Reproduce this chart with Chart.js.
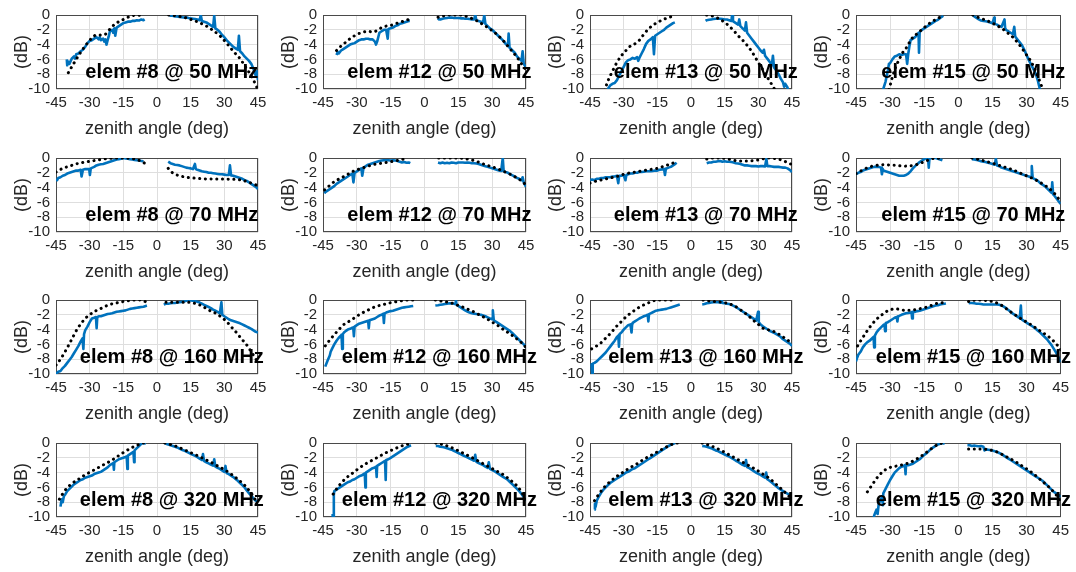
<!DOCTYPE html>
<html><head><meta charset="utf-8">
<script src="https://cdn.jsdelivr.net/npm/chart.js@4.4.0/dist/chart.umd.min.js"></script>
<style>
html,body{margin:0;padding:0;background:#fff;}
body{width:1076px;height:572px;position:relative;overflow:hidden;}
canvas{position:absolute;}
</style>
</head><body>
<script>
// ---------- tick labels ----------
const xTicks = [-45, -30, -15, 0, 15, 30, 45];
const yTicks = [0, -2, -4, -6, -8, -10];
const elemNames = ['#8', '#12', '#13', '#15'];
const freqNames = ['50 MHz', '70 MHz', '160 MHz', '320 MHz'];

// ---------- 50 MHz ----------
const e8_50_meas = [[-40.2,-6.0],[-40,-6.8],[-39.5,-6.3],[-39,-6.6],[-38,-5.9],[-37,-5.6],[-36.5,-5.9],[-36,-5.3],[-35,-5.2],[-34,-4.9],[-33,-4.7],[-32,-4.3],[-31,-3.8],[-30,-3.5],[-29,-3.4],[-28,-3.2],[-27,-3.0],[-26,-3.3],[-25.5,-3.0],[-25,-3.4],[-24,-3.2],[-23.5,-3.6],[-23,-3.3],[-22.5,-4.0],[-22,-3.4],[-21.5,-2.9],[-21,-2.2],[-20,-2.0],[-19.5,-2.4],[-19,-1.8],[-18.6,-2.8],[-18,-1.7],[-17,-1.5],[-16,-1.3],[-15,-1.1],[-14,-1.0],[-13,-0.9],[-12,-0.9],[-11,-0.8],[-10,-0.8],[-9,-0.7],[-8,-0.75],[-7,-0.6],[-6,-0.7],[-5.5,-0.6],
  [0,null],[5.5,0],[6,-0.1],[7,-0.1],[8,-0.2],[9,-0.2],[10,-0.25],[11,-0.3],[12,-0.35],[13,-0.3],[14,-0.4],[15,-0.45],[16,-0.5],[17,-0.55],[18,-0.6],[19,-0.7],[19.5,0],[20,-0.8],[21,-0.9],[22,-1.0],[23,-1.2],[24,-1.4],[25,-1.6],[25.5,-0.1],[26,-1.8],[27,-2.0],[28,-2.3],[29,-2.7],[30,-3.0],[31,-3.4],[32,-3.7],[33,-4.0],[34,-4.3],[35,-4.5],[36,-4.7],[36.5,-2.8],[37,-4.9],[38,-5.2],[39,-5.6],[40,-5.9],[41,-6.2],[42,-6.6],[43,-7.3],[44,-8.2],[44.5,-7.6],[45,-8.8]];
const e8_50_model = [[-39.5,-7.8],[-37,-6.5],[-35,-5.5],[-33,-4.6],[-31,-3.8],[-29,-3.1],[-27,-2.7],[-25,-2.7],[-23,-2.6],[-21,-1.9],[-19,-1.3],[-17,-0.9],[-15,-0.6],[-13,-0.3],[-11,-0.1],[-9,0],[-7,-0.1],[-6,-0.2],
  [0,null],[5.2,0],[7,-0.05],[10,-0.2],[13,-0.4],[16,-0.7],[19,-1.05],[22,-1.5],[25,-2.1],[28,-2.8],[31,-3.8],[34,-4.9],[37,-5.9],[40,-7.3],[42,-8.2],[44.7,-9.9]];

const e12_50_meas = [[-39,-5.4],[-38.5,-5.0],[-38,-5.2],[-37,-4.8],[-36,-4.6],[-35,-4.4],[-34,-4.2],[-33,-4.0],[-32,-3.9],[-31,-3.8],[-30,-3.6],[-29,-3.4],[-28,-3.3],[-27,-3.3],[-26,-3.2],[-25,-3.2],[-24,-3.3],[-23,-3.3],[-22,-3.6],[-21.5,-4.0],[-21,-3.6],[-20.5,-3.0],[-20,-2.4],[-19,-2.2],[-18,-2.0],[-17,-2.0],[-16.3,-3.2],[-16,-1.9],[-15,-1.8],[-14,-1.7],[-13,-1.5],[-12,-1.4],[-11,-1.2],[-10,-1.1],[-9,-1.0],[-8,-0.9],[-7,-0.8],[-6.5,-0.8],
  [0,null],[6,-0.7],[6.5,-0.5],[7,-0.6],[8,-0.5],[9,-0.45],[10,-0.4],[11,-0.35],[12,-0.35],[13,-0.4],[14,-0.4],[15,-0.4],[16,-0.45],[17,-0.45],[18,-0.5],[19,-0.5],[20,-0.55],[21,-0.6],[22,-0.6],[22.5,0],[23,-0.7],[24,-0.8],[25,-0.9],[26,-1.0],[26.5,0],[27,-1.2],[28,-1.5],[29,-1.8],[30,-2.0],[31,-2.3],[32,-2.6],[33,-2.9],[34,-3.2],[35,-3.5],[36,-3.9],[37,-4.2],[37.3,-2.5],[37.7,-4.4],[38,-4.5],[39,-4.8],[40,-5.1],[41,-5.6],[42,-5.9],[43,-6.2],[43.5,-4.9],[44,-6.6],[45,-7.1]];
const e12_50_model = [[-39,-4.8],[-37,-4.2],[-35,-3.7],[-33,-3.2],[-31,-2.8],[-29,-2.5],[-27,-2.3],[-25,-2.2],[-23,-2.3],[-21,-2.1],[-19,-1.7],[-17,-1.5],[-15,-1.4],[-13,-1.2],[-11,-1.0],[-9,-0.8],[-7,-0.6],
  [0,null],[6,-0.3],[8,-0.15],[11,0],[14,0],[17,-0.05],[20,-0.35],[23,-0.75],[26,-1.3],[29,-1.9],[32,-2.6],[35,-3.5],[38,-4.6],[41,-5.7],[43,-6.6],[45,-7.4]];

const e13_50_meas = [[-38,-10.8],[-37,-10.0],[-36,-9.5],[-35,-9.3],[-34,-9.2],[-33,-8.8],[-32,-8.2],[-31,-7.6],[-30,-7.0],[-29,-6.4],[-28,-6.1],[-27,-6.0],[-26,-5.8],[-25,-5.9],[-24,-5.7],[-23.5,-6.2],[-23,-5.8],[-22,-5.2],[-21,-4.6],[-20,-3.9],[-19,-3.5],[-18,-3.3],[-17,-3.0],[-16.5,-5.3],[-16,-2.8],[-15,-2.6],[-14,-2.4],[-13,-2.2],[-12,-2.0],[-11,-1.7],[-10,-1.5],[-9,-1.3],[-8,-1.1],[-7.2,-1.0],
  [0,null],[6.5,-0.8],[7,-0.7],[8,-0.65],[9,-0.6],[10,-0.55],[11,-0.5],[12,-0.5],[13,-0.5],[14,-0.55],[15,-0.6],[16,-0.6],[17,-0.7],[18,-0.8],[18.3,0],[18.7,-0.85],[19,-0.9],[20,-1.1],[21,-1.3],[21.5,-0.6],[22,-1.5],[23,-1.8],[24,-2.1],[24.5,-1.0],[25,-2.4],[26,-2.8],[27,-3.2],[28,-3.6],[29,-4.0],[30,-4.4],[31,-4.8],[32,-5.1],[32.5,-4.7],[33,-5.5],[34,-5.9],[35,-6.3],[36,-6.8],[36.5,-5.5],[37,-7.1],[38,-7.5],[39,-8.0],[40,-8.6],[41,-9.1],[41.5,-9.7],[42,-9.3],[43,-9.8],[43.5,-10.5]];
const e13_50_model = [[-38.5,-10.2],[-37,-8.9],[-35,-7.6],[-33,-6.4],[-31,-5.5],[-29,-4.8],[-27,-4.2],[-25,-3.9],[-23,-3.4],[-21,-2.6],[-19,-1.9],[-17,-1.4],[-15,-1.0],[-13,-0.7],[-11,-0.45],[-9,-0.25],[-7.5,-0.1],
  [0,null],[7,0],[9,-0.1],[11,-0.3],[13,-0.6],[15,-1.0],[17,-1.5],[19,-2.1],[21,-2.8],[23,-3.4],[25,-4.1],[27,-4.9],[29,-5.9],[31,-6.9],[33,-7.9],[35,-8.9],[37.4,-10.1]];

const e15_50_meas = [[-33.5,-10.5],[-33,-10],[-32,-9.0],[-31,-7.5],[-30.5,-6.6],[-30,-6.5],[-29,-6.0],[-28,-5.6],[-27,-5.5],[-26,-5.3],[-25,-5.4],[-24,-5.3],[-23,-5.3],[-22.5,-6.6],[-22,-5.2],[-21.5,-4.2],[-21,-3.4],[-20,-3.2],[-19,-3.0],[-18,-2.6],[-17.5,-2.4],[-17.3,-5.1],[-17,-2.3],[-16,-2.0],[-15,-1.8],[-14,-1.6],[-13,-1.4],[-12,-1.2],[-11,-1.0],[-10,-0.8],[-9,-0.65],[-8,-0.4],[-7,-0.2],[-6.7,-0.1],
  [0,null],[6.4,0],[7,-0.2],[8,-0.4],[9,-0.6],[10,-0.75],[11,-0.8],[12,-0.85],[13,-0.9],[14,-1.0],[15,-1.1],[15.8,-0.35],[16,-1.2],[17,-1.3],[18,-1.5],[19,-1.6],[20.3,-0.6],[20.6,-1.8],[21,-2.0],[22,-2.2],[23,-2.4],[24,-2.6],[24.6,-1.6],[25,-2.9],[26,-3.3],[27,-3.7],[28,-4.1],[29,-4.7],[30,-5.4],[31,-6.1],[32,-6.7],[33,-7.3],[34,-7.9],[35,-8.9],[36,-10.2]];
const e15_50_model = [[-30.5,-10.1],[-29,-8.4],[-27.5,-7.0],[-26,-6.0],[-24.5,-5.1],[-23,-4.5],[-21.5,-3.7],[-20,-3.0],[-18,-2.5],[-16.5,-2.1],[-15,-1.7],[-13,-1.2],[-11,-0.8],[-9,-0.45],[-7.5,-0.2],[-7,-0.1],
  [0,null],[6.4,0],[8,-0.25],[10,-0.45],[12,-0.7],[14,-0.95],[16,-1.25],[18,-1.6],[20,-2.0],[22,-2.5],[24,-3.0],[26,-3.7],[28,-4.5],[30,-5.4],[32,-6.3],[34,-7.6],[35.5,-8.7],[37.2,-10.1]];

// ---------- 70 MHz ----------
const e8_70_meas = [[-45,-2.8],[-44.5,-3.0],[-44,-2.7],[-43,-2.6],[-42,-2.4],[-41,-2.3],[-40,-2.1],[-39,-2.0],[-38,-1.9],[-37,-1.8],[-36,-1.7],[-35,-1.7],[-34,-1.6],[-33.6,-2.5],[-33,-1.6],[-32,-1.5],[-31,-1.5],[-30.2,-1.5],[-29.9,-2.3],[-29.5,-1.4],[-28,-1.2],[-27,-1.0],[-26,-0.9],[-25,-0.85],[-24,-0.8],[-23,-0.7],[-22,-0.6],[-21,-0.5],[-20,-0.4],[-19,-0.3],[-18,-0.2],[-17,-0.15],[-16,-0.1],[-15,0],[-14,-0.05],[-13,-0.1],[-12,-0.15],[-11,-0.2],[-10,-0.25],[-9,-0.3],[-8,-0.35],[-7,-0.4],[-6,-0.45],
  [0,null],[5,-0.5],[6,-0.7],[7,-0.8],[8,-0.9],[9,-0.95],[10,-1.0],[11,-1.1],[12,-1.2],[13,-1.3],[14,-1.35],[15,-1.4],[16,-1.5],[16.9,-0.8],[17.3,-1.5],[18,-1.6],[19,-1.7],[20,-1.8],[21,-1.85],[22,-1.9],[23,-2.0],[24,-2.0],[25,-2.05],[26,-2.1],[27,-2.15],[28,-2.2],[29,-2.2],[30,-2.25],[31,-2.3],[32,-2.3],[32.5,-1.0],[33,-2.35],[34,-2.4],[35,-2.5],[36,-2.6],[37,-2.7],[38,-2.8],[39,-3.0],[40,-3.1],[41,-3.3],[42,-3.5],[43,-3.7],[44,-3.9],[45,-4.2]];
const e8_70_model = [[-45,-1.9],[-42,-1.4],[-39,-1.1],[-36,-0.8],[-33,-0.6],[-30,-0.45],[-27,-0.3],[-24,-0.15],[-21,-0.05],[-18,0],[-15,0],[-12,-0.05],[-9,-0.2],[-7,-0.45],[-5.5,-0.7],
  [0,null],[5,-1.4],[6.5,-1.9],[8,-2.2],[10,-2.4],[13,-2.6],[16,-2.7],[20,-2.8],[25,-2.85],[30,-2.85],[35,-2.9],[38,-3.0],[41,-3.3],[43,-3.5],[45,-3.75]];

const e12_70_meas = [[-44.3,-4.8],[-44,-4.6],[-43,-4.4],[-42,-4.2],[-41,-4.0],[-40,-3.8],[-39,-3.5],[-38,-3.3],[-37,-3.1],[-36,-2.9],[-35,-2.7],[-34,-2.5],[-33,-2.3],[-32,-2.1],[-31.5,-3.3],[-31,-2.0],[-30,-1.8],[-29,-1.6],[-28,-1.4],[-27.6,-2.4],[-27,-1.3],[-26,-1.1],[-25,-0.9],[-24,-0.8],[-23,-0.7],[-22,-0.6],[-21,-0.5],[-20,-0.4],[-19,-0.35],[-18,-0.3],[-17,-0.3],[-16,-0.3],[-15,-0.35],[-14,-0.3],[-13,-0.35],[-12,-0.4],[-11,-0.5],[-10,-0.6],[-9,-0.55],[-8,-0.65],[-7,-0.6],[-6.3,-0.7],
  [0,null],[6,-0.6],[7,-0.7],[8,-0.6],[9,-0.7],[10,-0.65],[11,-0.7],[12,-0.6],[13,-0.65],[14,-0.7],[15,-0.6],[16,-0.6],[17,-0.6],[18,-0.65],[19,-0.6],[20,-0.65],[21,-0.7],[22,-0.7],[23,-0.75],[24,-0.8],[25,-0.9],[26,-1.0],[27,-1.1],[28,-1.2],[29,-1.3],[30,-1.4],[31,-1.5],[32,-1.6],[33,-1.7],[34,-1.75],[34.7,0],[35.1,-1.8],[36,-1.9],[37,-2.0],[38,-2.2],[39,-2.35],[40,-2.5],[41,-2.7],[42,-2.8],[43,-3.0],[43.5,-2.6],[44,-3.3],[45,-3.9]];
const e12_70_model = [[-44.3,-4.3],[-42,-3.7],[-40,-3.2],[-37,-2.7],[-34,-2.2],[-31,-1.7],[-28,-1.4],[-25,-1.1],[-22,-0.85],[-19,-0.7],[-16,-0.55],[-13,-0.4],[-10,-0.2],[-7.7,0],
  [0,null],[6.3,0],[10,0],[14,0],[17,-0.05],[20,-0.2],[23,-0.45],[26,-0.8],[29,-1.1],[32,-1.4],[35,-1.8],[38,-2.2],[41,-2.7],[43,-3.1],[44.5,-3.5]];

const e13_70_meas = [[-45,-3.0],[-44,-2.9],[-43,-3.0],[-42,-2.8],[-41,-2.8],[-40,-2.7],[-39,-2.7],[-38,-2.6],[-37,-2.6],[-36,-2.6],[-35,-2.5],[-34,-2.5],[-33,-2.4],[-32.4,-3.4],[-32,-2.4],[-31,-2.4],[-30,-2.3],[-29.2,-3.0],[-28.8,-2.3],[-28,-2.2],[-27,-2.1],[-26,-2.1],[-25,-2.0],[-24,-2.0],[-23,-1.9],[-22,-1.9],[-21,-1.85],[-20,-1.8],[-19,-1.8],[-18,-1.8],[-17,-1.75],[-16,-1.7],[-15,-1.7],[-14,-1.6],[-12,-1.5],[-11.6,-2.3],[-11.2,-1.45],[-10,-1.3],[-9,-1.2],[-8,-1.0],[-7,-0.8],[-6.5,-0.6],
  [0,null],[7,-0.7],[8,-0.6],[9,-0.6],[10,-0.5],[11,-0.5],[12,-0.45],[13,-0.4],[14,-0.5],[15,-0.45],[16,-0.5],[17,-0.5],[18,-0.55],[19,-0.6],[20,-0.7],[21,-0.75],[22,-0.8],[23,-0.9],[24,-1.0],[25,-1.0],[26,-1.05],[27,-1.1],[28,-1.1],[29,-1.1],[30,-1.15],[31,-1.1],[32,-1.1],[33,-1.15],[33.6,-0.1],[34,-1.1],[35,-1.1],[36,-1.15],[37,-1.2],[38,-1.2],[39,-1.2],[40,-1.25],[41,-1.3],[42,-1.3],[43,-1.4],[44,-1.6],[45,-1.9]];
const e13_70_model = [[-45,-3.4],[-42,-3.1],[-39,-2.9],[-36,-2.7],[-33,-2.5],[-30,-2.2],[-27,-2.0],[-24,-1.85],[-21,-1.7],[-18,-1.55],[-15,-1.4],[-12,-1.1],[-9,-0.8],[-6.7,-0.5],
  [0,null],[7,-0.15],[10,0],[13,0],[16,-0.1],[19,-0.3],[22,-0.4],[25,-0.4],[28,-0.35],[31,-0.2],[34,0],[37,-0.05],[40,-0.25],[42.5,-0.55],[44.7,-0.85]];

const e15_70_meas = [[-45,-2.2],[-44,-2.0],[-43,-1.9],[-42,-1.7],[-41,-1.6],[-40,-1.5],[-39,-1.4],[-38,-1.3],[-37,-1.2],[-36,-1.2],[-35,-1.2],[-34,-1.3],[-33.6,-2.2],[-33.2,-1.5],[-33,-1.7],[-32,-1.8],[-31,-1.9],[-30,-2.0],[-29,-2.1],[-28,-2.2],[-27,-2.3],[-26,-2.4],[-25,-2.4],[-24,-2.4],[-23,-2.3],[-22,-2.1],[-21,-1.8],[-20,-1.4],[-19,-1.1],[-18,-0.8],[-17,-0.55],[-16,-0.35],[-15,-0.15],[-14,0],[-13.3,-0.1],[-13,-1.3],[-12.7,-0.1],[-12,0],[-11,0],[-10,0],[-9,-0.1],[-8,-0.2],[-7,-0.3],
  [0,null],[6,-0.15],[7,-0.2],[8,-0.25],[9,-0.35],[10,-0.45],[11,-0.5],[12,-0.55],[13,-0.65],[14,-0.7],[15,-0.8],[16,-0.9],[16.5,-0.1],[17,-1.0],[18,-1.1],[19,-1.3],[20,-1.4],[21,-1.5],[22,-1.6],[23,-1.7],[24,-1.8],[25,-1.9],[26,-2.0],[27,-2.1],[28,-2.2],[29,-2.3],[30,-2.4],[31,-2.5],[32,-2.6],[32.3,-1.1],[32.7,-2.7],[33,-2.75],[34,-2.9],[35,-3.1],[36,-3.4],[37,-3.6],[38,-3.8],[39,-4.1],[40,-4.4],[41,-4.7],[41.3,-3.3],[41.7,-4.9],[42,-5.0],[43,-5.4],[44,-5.8],[45,-6.2]];
const e15_70_model = [[-45,-2.1],[-42,-1.6],[-39,-1.2],[-36,-1.0],[-33,-0.9],[-30,-0.95],[-27,-1.0],[-24,-1.1],[-21,-1.05],[-18,-0.85],[-15,-0.5],[-12,-0.15],[-10,0],[-7.2,-0.1],
  [0,null],[6,0],[9,-0.2],[12,-0.45],[15,-0.7],[18,-1.0],[21,-1.3],[24,-1.6],[27,-2.0],[30,-2.4],[33,-2.8],[36,-3.3],[39,-3.9],[42,-4.7],[44.6,-5.7]];

// ---------- 160 MHz ----------
const e8_160_meas = [[-45,-10],[-44,-9.7],[-43,-9.6],[-42,-9.2],[-41,-8.9],[-40,-8.5],[-39,-8.1],[-38,-7.7],[-37,-7.2],[-36,-6.7],[-35,-6.2],[-34,-5.6],[-33.2,-5.2],[-32.8,-6.6],[-32.5,-4.6],[-32,-4.1],[-31,-3.6],[-30,-3.0],[-29,-2.5],[-28,-2.4],[-27.2,-2.3],[-26.9,-3.8],[-26.6,-2.3],[-26,-2.2],[-25,-2.2],[-24,-2.1],[-23,-2.0],[-22,-1.9],[-21,-1.85],[-20,-1.8],[-19,-1.7],[-18,-1.6],[-17,-1.55],[-16,-1.5],[-15,-1.45],[-14,-1.4],[-13,-1.3],[-12,-1.2],[-11,-1.15],[-10,-1.1],[-9,-1.05],[-8,-1.0],[-7,-0.95],[-6,-0.9],[-5,-0.8],[-4.5,-0.75],
  [0,null],[3,-0.6],[4,-0.5],[5,-0.5],[6,-0.45],[7,-0.4],[8,-0.4],[9,-0.35],[10,-0.3],[11,-0.25],[12,-0.2],[13,-0.1],[14,0],[15,-0.05],[16,-0.1],[17,-0.15],[18,-0.25],[19,-0.35],[20,-0.5],[21,-0.65],[22,-0.8],[23,-0.95],[24,-1.1],[25,-1.3],[26,-1.45],[27,-1.6],[28,-1.8],[28.7,-0.3],[29.1,-2.0],[30,-2.2],[31,-2.4],[32,-2.6],[33,-2.75],[34,-2.85],[35,-2.95],[36,-3.05],[37,-3.15],[38,-3.3],[39,-3.45],[40,-3.6],[41,-3.75],[42,-3.9],[43,-4.1],[44,-4.3],[45,-4.4]];
const e8_160_model = [[-45,-8.8],[-43,-8.0],[-41,-7.0],[-39,-5.9],[-37.3,-4.9],[-35.5,-3.9],[-33.6,-3.1],[-32,-2.5],[-30,-2.0],[-27.5,-1.5],[-25.4,-1.2],[-23,-0.85],[-21,-0.6],[-18,-0.4],[-16.5,-0.3],[-13,-0.1],[-10.6,0],[-8,0],[-6,-0.1],[-4.5,-0.35],
  [0,null],[4,-0.3],[7,-0.3],[10,-0.3],[13,-0.3],[16,-0.4],[18,-0.55],[20,-0.8],[22,-1.15],[24,-1.5],[26.5,-1.85],[29,-2.4],[31,-2.9],[33,-3.6],[35.4,-4.4],[37.5,-5.2],[39.8,-6.0],[42,-7.0],[44.3,-8.1]];

const e12_160_meas = [[-44,-9.0],[-43.5,-8.6],[-43,-8.2],[-42,-7.5],[-41.6,-7.0],[-41,-6.6],[-40,-6.0],[-39,-5.5],[-38,-5.1],[-37,-4.8],[-36.8,-4.7],[-36.5,-6.6],[-36.2,-4.6],[-35.7,-4.4],[-35,-4.2],[-34,-4.0],[-33,-3.9],[-32,-3.75],[-31.6,-3.7],[-31.3,-4.9],[-31,-3.6],[-30,-3.4],[-29,-3.2],[-28,-3.1],[-27,-3.0],[-26,-2.9],[-25,-2.8],[-24.7,-3.8],[-24.4,-2.75],[-23,-2.6],[-22,-2.5],[-21,-2.3],[-20,-2.1],[-19,-2.0],[-18.3,-1.85],[-18,-3.1],[-17.7,-1.8],[-17,-1.7],[-16,-1.6],[-15,-1.5],[-14,-1.45],[-13,-1.35],[-12,-1.25],[-11,-1.15],[-10,-1.05],[-9,-1.0],[-8,-0.95],[-7,-0.9],[-6,-0.85],[-5,-0.8],[-4.8,-0.8],
  [0,null],[4.8,-0.75],[6,-0.7],[7,-0.65],[8,-0.6],[9,-0.55],[10,-0.5],[11,-0.45],[12,-0.45],[13,-0.5],[13.6,-0.55],[13.9,0.1],[14.2,-0.65],[15,-0.8],[16,-1.0],[17,-1.2],[18,-1.4],[19,-1.55],[20,-1.7],[21,-1.8],[22,-1.85],[23,-1.9],[24,-1.95],[25,-2.0],[26,-2.1],[27,-2.2],[28,-2.35],[29,-2.5],[30,-2.6],[30.3,-1.4],[30.7,-2.7],[31,-2.8],[32,-3.0],[33,-3.2],[34,-3.4],[35,-3.6],[36,-3.8],[37,-4.0],[38,-4.2],[39,-4.5],[40,-4.8],[41,-5.1],[42,-5.4],[43,-5.7],[44,-6.0],[45,-6.4]];
const e12_160_model = [[-44,-6.2],[-42,-5.4],[-40,-4.7],[-38,-4.0],[-35.7,-3.3],[-33,-2.8],[-31,-2.4],[-29,-2.0],[-27,-1.65],[-25,-1.35],[-22.5,-1.0],[-20,-0.75],[-18,-0.6],[-15.5,-0.4],[-13,-0.25],[-10,-0.1],[-7,0],[-4.8,0],
  [0,null],[4.8,0],[6.5,-0.1],[8.5,-0.2],[11,-0.35],[13,-0.5],[15,-0.75],[17.3,-1.0],[19.5,-1.3],[21.8,-1.6],[24,-1.95],[26.2,-2.3],[28.5,-2.7],[30.6,-3.1],[33,-3.55],[35,-4.0],[37,-4.4],[39.4,-4.9],[41.5,-5.4],[43.8,-6.0],[45,-6.4]];

const e13_160_meas = [[-44.5,-9.0],[-44.3,-8.7],[-44,-10.2],[-43.8,-8.6],[-43,-8.5],[-42,-8.3],[-41,-8.0],[-40,-7.7],[-39,-7.4],[-38,-7.1],[-37,-6.7],[-36,-6.3],[-35,-5.9],[-34,-5.5],[-33,-5.0],[-32.4,-4.8],[-32.1,-6.3],[-31.8,-4.6],[-31,-4.4],[-30,-4.0],[-29,-3.7],[-28,-3.4],[-27,-3.3],[-26.5,-4.4],[-26.2,-3.2],[-26,-3.1],[-25,-2.9],[-24,-2.7],[-23,-2.5],[-22,-2.35],[-21,-2.2],[-20,-2.1],[-19.3,-2.0],[-19,-2.9],[-18.7,-1.9],[-18,-1.8],[-17,-1.65],[-16,-1.5],[-15,-1.4],[-14,-1.35],[-13,-1.3],[-12,-1.25],[-11,-1.2],[-10,-1.1],[-9,-1.0],[-8,-0.9],[-7,-0.8],[-6,-0.7],[-5,-0.6],
  [0,null],[5,-0.6],[6,-0.55],[7,-0.45],[8,-0.4],[9,-0.35],[10,-0.3],[11,-0.3],[12,-0.3],[13.2,-0.35],[13.6,0.1],[14,-0.4],[15,-0.45],[16,-0.5],[17,-0.55],[18,-0.65],[19,-0.8],[20,-0.95],[21,-1.15],[22,-1.35],[23,-1.55],[24,-1.75],[25,-1.95],[26,-2.15],[27,-2.35],[28,-2.55],[29,-2.8],[29.9,-1.6],[30.2,-3.0],[31,-3.3],[32,-3.55],[33,-3.75],[34,-3.95],[35,-4.15],[36,-4.3],[37,-4.45],[38,-4.6],[39,-4.8],[40,-5.0],[41,-5.3],[42,-5.5],[43,-5.7],[44,-5.9],[45,-6.2]];
const e13_160_model = [[-44.3,-6.6],[-42,-6.2],[-40.5,-5.9],[-38.5,-5.3],[-36.8,-4.8],[-35,-4.2],[-33,-3.5],[-31,-2.9],[-28.7,-2.2],[-26.5,-1.7],[-24.2,-1.2],[-22,-0.8],[-19.8,-0.5],[-17.5,-0.2],[-15.3,0],[-12,0],[-9,0],[-6.4,0],
  [0,null],[5.4,0],[7.5,-0.1],[9.8,-0.2],[12,-0.25],[14.3,-0.3],[16.5,-0.5],[18.7,-0.7],[21,-1.1],[23.2,-1.6],[25.5,-2.1],[27.6,-2.7],[30,-3.3],[32,-3.8],[34,-4.0],[36.5,-4.2],[39,-4.6],[41,-5.0],[43,-5.4],[44.7,-5.9]];

const e15_160_meas = [[-45,-8.3],[-44.5,-7.8],[-44,-7.4],[-43,-7.0],[-42,-6.4],[-41,-6.0],[-40,-5.7],[-39,-5.5],[-38,-5.2],[-37.3,-5.0],[-37,-6.4],[-36.7,-4.8],[-36,-4.4],[-35,-4.0],[-34,-3.7],[-33,-3.4],[-32.5,-3.3],[-32.2,-4.2],[-31.9,-3.1],[-31,-3.0],[-30,-2.8],[-29,-2.6],[-28,-2.4],[-27.1,-2.3],[-26.8,-2.9],[-26.5,-2.2],[-26,-2.15],[-25,-2.0],[-24,-1.9],[-23,-1.8],[-22,-1.75],[-21,-1.7],[-20.6,-1.65],[-20.3,-2.5],[-20,-1.6],[-19,-1.6],[-18,-1.5],[-17,-1.45],[-16,-1.35],[-15,-1.25],[-14,-1.15],[-13,-1.05],[-12,-0.95],[-11,-0.85],[-10,-0.75],[-9,-0.7],[-8,-0.6],[-7,-0.55],[-6,-0.5],[-5.5,-0.45],
  [0,null],[4.5,-0.45],[5,-0.4],[6,-0.4],[7,-0.45],[8,-0.5],[9,-0.5],[10,-0.55],[11,-0.6],[12,-0.6],[13,-0.6],[14,-0.6],[15,-0.6],[16,-0.6],[17,-0.6],[18,-0.65],[19,-0.75],[20,-0.9],[21,-1.1],[22,-1.35],[23,-1.6],[24,-1.85],[25,-2.05],[26,-2.25],[27,-2.45],[27.5,-0.75],[27.8,-2.55],[28,-2.65],[29,-2.85],[30,-3.05],[31,-3.25],[32,-3.45],[33,-3.65],[34,-3.9],[35,-4.15],[36,-4.4],[37,-4.7],[38,-5.0],[39,-5.3],[40,-5.7],[41,-6.1],[42,-6.6],[43,-7.1],[44,-7.7],[45,-8.4]];
const e15_160_model = [[-44.3,-6.2],[-42.5,-5.3],[-40.6,-4.4],[-38.5,-3.5],[-36.3,-2.7],[-34,-2.1],[-31.9,-1.6],[-29.7,-1.3],[-27.5,-1.2],[-25.5,-1.3],[-23.2,-1.4],[-21,-1.4],[-18.8,-1.3],[-16.5,-1.15],[-14.4,-1.0],[-12,-0.75],[-10,-0.5],[-8,-0.4],[-5.7,-0.3],
  [0,null],[4.5,-0.2],[6.5,-0.05],[8.9,0],[11,-0.05],[13.3,-0.1],[15.5,-0.25],[17.6,-0.5],[20,-0.9],[22,-1.4],[24.2,-1.85],[26.4,-2.3],[28.5,-2.7],[30.7,-3.1],[33,-3.55],[35.1,-4.0],[37.3,-4.45],[39.5,-4.9],[41.7,-5.5],[43.8,-6.2],[45,-6.7]];

// ---------- 320 MHz ----------
const e8_320_meas = [[-43,-8.6],[-42.5,-7.6],[-42,-8.0],[-41.5,-7.2],[-41,-7.0],[-40,-6.5],[-39,-6.2],[-38,-5.9],[-37,-5.6],[-36,-5.4],[-35,-5.2],[-34,-5.0],[-33,-4.9],[-32,-4.7],[-31,-4.6],[-30,-4.5],[-29,-4.4],[-28,-4.2],[-27,-4.1],[-26,-4.0],[-25,-3.9],[-24,-3.7],[-23,-3.5],[-22,-3.3],[-21,-3.0],[-20,-2.8],[-19.5,-2.7],[-19.2,-3.6],[-19,-2.6],[-18,-2.4],[-17,-2.2],[-16,-2.1],[-15,-2.0],[-14,-1.9],[-13.5,-1.8],[-13.2,-3.5],[-13,-1.7],[-12,-1.5],[-11,-1.3],[-10.5,-1.2],[-10.2,-2.6],[-10,-1.0],[-9,-0.7],[-8,-0.4],[-7,-0.1],[-6,0],[-5,-0.1],
  [0,null],[3.5,0],[4,-0.1],[5,-0.2],[6,-0.3],[7,-0.4],[8,-0.5],[9,-0.6],[10,-0.75],[11,-0.9],[12,-1.0],[13,-1.15],[14,-1.3],[15,-1.45],[16,-1.6],[17,-1.75],[18,-1.9],[19,-2.1],[20,-2.3],[20.5,-1.5],[21,-2.45],[22,-2.6],[23,-2.75],[24,-2.9],[25,-3.05],[25.5,-2.2],[26,-3.2],[27,-3.35],[28,-3.5],[29,-3.7],[30,-3.9],[30.5,-3.1],[31,-4.05],[32,-4.2],[33,-4.4],[34,-4.6],[35,-4.85],[36,-5.1],[37,-5.4],[38,-5.7],[39,-6.0],[40,-6.4],[41,-6.8],[42,-7.1],[43,-7.5],[44,-7.8],[45,-8.0]];
const e8_320_model = [[-43.5,-7.6],[-41,-6.4],[-38,-5.5],[-35,-4.9],[-32,-4.3],[-29,-3.8],[-26,-3.3],[-23,-2.8],[-20,-2.3],[-17,-1.7],[-14,-1.1],[-11,-0.6],[-8,-0.2],[-6,0],[-5,0],
  [0,null],[3.5,0],[6,-0.2],[9,-0.5],[12,-0.9],[15,-1.3],[18,-1.7],[21,-2.15],[24,-2.6],[27,-3.1],[30,-3.6],[33,-4.2],[36,-4.9],[39,-5.7],[42,-6.8],[45,-8.3]];

const e12_320_meas = [[-40.8,-9.6],[-40.5,-10.3],[-40.2,-7.0],[-40,-6.5],[-39,-6.3],[-38,-6.1],[-37,-5.9],[-36,-5.7],[-35,-5.5],[-34,-5.3],[-33,-5.2],[-32,-5.0],[-31,-4.9],[-30,-4.7],[-29,-4.5],[-28,-4.4],[-27,-4.2],[-26.5,-4.1],[-26.2,-6.0],[-26,-4.0],[-25,-3.8],[-24,-3.6],[-23,-3.4],[-22,-3.3],[-21.5,-3.2],[-21.2,-4.6],[-21,-3.1],[-20,-2.9],[-19,-2.7],[-18,-2.5],[-17.5,-2.4],[-17.2,-5.0],[-17,-2.3],[-16,-2.2],[-15,-2.0],[-14,-1.8],[-13,-1.6],[-12,-1.4],[-11,-1.2],[-10,-1.0],[-9,-0.8],[-8,-0.6],[-7,-0.45],[-6,-0.3],
  [0,null],[5,-0.4],[6,-0.4],[7,-0.5],[8,-0.55],[9,-0.6],[10,-0.7],[11,-0.8],[12,-0.9],[13,-1.05],[14,-1.2],[15,-1.35],[16,-1.5],[17,-1.65],[18,-1.8],[19,-1.95],[20,-2.1],[21,-2.25],[22,-2.4],[22.5,-1.6],[23,-2.55],[24,-2.7],[25,-2.85],[26,-3.0],[27,-3.2],[28,-3.35],[28.5,-2.6],[29,-3.5],[30,-3.65],[31,-3.8],[32,-4.0],[33,-4.2],[34,-4.4],[35,-4.6],[36,-4.8],[37,-5.0],[38,-5.3],[39,-5.6],[40,-5.9],[41,-6.2],[42,-6.5],[43,-6.9],[44,-7.3],[45,-7.8]];
const e12_320_model = [[-40.5,-6.9],[-38,-5.8],[-35,-4.8],[-32,-4.1],[-29,-3.4],[-26,-2.8],[-23,-2.3],[-20,-1.8],[-17,-1.3],[-14,-0.9],[-11,-0.5],[-8,-0.2],[-6,-0.1],
  [0,null],[5,0],[8,-0.2],[11,-0.5],[14,-0.9],[17,-1.35],[20,-1.8],[23,-2.3],[26,-2.8],[29,-3.3],[32,-3.8],[35,-4.3],[38,-5.0],[41,-5.8],[43,-6.6],[45,-7.8]];

const e13_320_meas = [[-43,-9.0],[-42.8,-8.2],[-42.5,-8.6],[-42,-7.8],[-41,-7.2],[-40,-6.7],[-39,-6.3],[-38,-6.0],[-37,-5.7],[-36,-5.4],[-35,-5.2],[-34,-5.0],[-33,-4.8],[-32,-4.6],[-31,-4.4],[-30,-4.2],[-29,-4.0],[-28,-3.9],[-27,-3.7],[-26,-3.5],[-25,-3.4],[-24,-3.2],[-23,-3.0],[-22,-2.8],[-21,-2.6],[-20,-2.4],[-19,-2.2],[-18,-2.0],[-17,-1.8],[-16,-1.6],[-15,-1.4],[-14,-1.2],[-13,-1.0],[-12,-0.8],[-11,-0.6],[-10,-0.4],[-9,-0.25],[-8,-0.1],[-7,0],
  [0,null],[5,-0.4],[6,-0.45],[7,-0.5],[8,-0.6],[9,-0.7],[10,-0.85],[11,-1.0],[12,-1.1],[13,-1.25],[14,-1.4],[15,-1.55],[16,-1.7],[17,-1.85],[18,-2.0],[19,-2.2],[20,-2.4],[21,-2.55],[22,-2.75],[23,-2.95],[24,-3.1],[24.5,-2.3],[25,-3.25],[26,-3.4],[27,-3.6],[28,-3.8],[29,-4.0],[30,-4.15],[31,-4.3],[32,-4.5],[33,-4.7],[33.5,-4.0],[34,-4.9],[35,-5.1],[36,-5.35],[37,-5.6],[38,-5.85],[39,-6.1],[40,-6.3],[41,-6.5],[42,-6.7],[43,-6.85],[44,-7.0],[45,-7.2]];
const e13_320_model = [[-43,-7.8],[-41,-6.9],[-39,-6.1],[-36,-5.2],[-33,-4.5],[-30,-3.9],[-27,-3.3],[-24,-2.8],[-21,-2.2],[-18,-1.7],[-15,-1.2],[-12,-0.7],[-9,-0.25],[-7,0],[-6,0],
  [0,null],[5,0],[8,-0.3],[11,-0.65],[14,-1.1],[17,-1.6],[20,-2.1],[23,-2.6],[26,-3.1],[29,-3.6],[32,-4.2],[35,-4.8],[38,-5.6],[41,-6.4],[43,-7.0],[45,-7.6]];

const e15_320_meas = [[-37.5,-10.5],[-37,-9.8],[-36.5,-9.4],[-36,-9.0],[-35.5,-9.6],[-35,-8.2],[-34,-7.6],[-33.5,-7.2],[-33.2,-8.4],[-33,-6.8],[-32,-6.2],[-31,-5.6],[-30,-5.0],[-29,-4.5],[-28,-4.0],[-27,-3.7],[-26,-3.4],[-25,-3.2],[-24,-3.1],[-23.5,-3.0],[-23.2,-4.2],[-23,-3.0],[-22,-3.0],[-21,-2.9],[-20,-2.8],[-19,-2.6],[-18,-2.4],[-17,-2.2],[-16,-1.9],[-15,-1.6],[-14,-1.4],[-13,-1.1],[-12,-0.8],[-11,-0.6],[-10,-0.4],[-9,-0.2],[-8,-0.1],[-7,0],[-6,-0.1],
  [0,null],[4,-0.3],[5,-0.3],[6,-0.4],[7,-0.35],[8,-0.4],[9,-0.45],[10,-0.4],[11,-0.5],[11.5,-1.0],[12,-0.9],[13,-0.9],[14,-0.95],[15,-1.0],[16,-1.1],[17,-1.2],[18,-1.35],[19,-1.5],[20,-1.7],[21,-1.9],[22,-2.1],[23,-2.3],[24,-2.5],[25,-2.7],[26,-2.9],[27,-3.1],[28,-3.3],[29,-3.5],[30,-3.7],[31,-3.9],[32,-4.1],[33,-4.3],[34,-4.5],[35,-4.7],[36,-4.9],[37,-5.1],[38,-5.4],[39,-5.7],[40,-6.0],[41,-6.3],[42,-6.6],[43,-6.8],[44,-7.0],[45,-7.3]];
const e15_320_model = [[-40,-6.6],[-38,-5.7],[-36,-4.8],[-34,-4.1],[-32,-3.6],[-30,-3.3],[-27,-3.1],[-24,-2.9],[-21,-2.6],[-18,-2.1],[-15,-1.5],[-12,-0.8],[-9,-0.2],[-7,0],
  [0,null],[4.5,-0.8],[7,-0.8],[10,-0.8],[13,-0.9],[16,-1.1],[19,-1.5],[22,-2.0],[25,-2.5],[28,-3.1],[31,-3.7],[34,-4.4],[37,-5.2],[40,-6.0],[43,-7.0],[45,-7.8]];

// panels row by row (frequency rows, element columns)
const measured = [
  e8_50_meas, e12_50_meas, e13_50_meas, e15_50_meas,
  e8_70_meas, e12_70_meas, e13_70_meas, e15_70_meas,
  e8_160_meas, e12_160_meas, e13_160_meas, e15_160_meas,
  e8_320_meas, e12_320_meas, e13_320_meas, e15_320_meas];
const modeled = [
  e8_50_model, e12_50_model, e13_50_model, e15_50_model,
  e8_70_model, e12_70_model, e13_70_model, e15_70_model,
  e8_160_model, e12_160_model, e13_160_model, e15_160_model,
  e8_320_model, e12_320_model, e13_320_model, e15_320_model];

// ---------- layout ----------
const colLeft = [56, 323, 590, 856];
const colWidth = [202, 203, 202, 206];
const rowTop = [12, 155, 297, 440];
const plotH = 77;
const CW = 275, CH = 143, YAXW = 57, TOPPAD = 12;
const FONT = '"Liberation Sans", Arial, Helvetica, sans-serif';
const TXT = '#262626';

Chart.defaults.font.family = FONT;

const boxPlugin = {
  id: 'box',
  beforeDatasetsDraw(chart) {
    const a = chart.chartArea, ctx = chart.ctx;
    ctx.save();
    ctx.strokeStyle = '#4a4a4a';
    ctx.lineWidth = 1;
    ctx.strokeRect(Math.round(a.left) + 0.5, Math.round(a.top) + 0.5,
      Math.round(a.right - a.left) - 1, Math.round(a.bottom - a.top) - 1);
    ctx.restore();
  }
};
const labelPlugin = {
  id: 'panelLabel',
  afterDatasetsDraw(chart, args, opts) {
    const ctx = chart.ctx;
    const x = chart.scales.x.getPixelForValue(6.6);
    const y = chart.scales.y.getPixelForValue(-7.75);
    ctx.save();
    ctx.font = 'bold 20px ' + FONT;
    ctx.fillStyle = '#000';
    ctx.textAlign = 'center';
    ctx.textBaseline = 'middle';
    ctx.fillText(opts.text, x, y);
    ctx.restore();
  }
};

for (let i = 0; i < 16; i++) {
  const r = Math.floor(i / 4), c = i % 4;
  const cv = document.createElement('canvas');
  cv.width = CW; cv.height = CH;
  cv.style.width = CW + 'px'; cv.style.height = CH + 'px';
  cv.style.left = (colLeft[c] - YAXW) + 'px';
  cv.style.top = (rowTop[r] - TOPPAD) + 'px';
  document.body.appendChild(cv);
  const toXY = arr => arr.map(p => ({x: p[0], y: p[1]}));
  new Chart(cv, {
    type: 'line',
    data: {
      datasets: [
        { label: 'model', data: toXY(modeled[i]), borderColor: '#000', borderWidth: 3,
          borderDash: [0.1, 5.6], borderCapStyle: 'round', pointRadius: 0,
          cubicInterpolationMode: 'monotone', spanGaps: false },
        { label: 'measured', data: toXY(measured[i]), borderColor: '#0072BD', borderWidth: 2.6,
          pointRadius: 0, tension: 0, spanGaps: false, borderJoinStyle: 'round' }
      ]
    },
    options: {
      responsive: false, animation: false, devicePixelRatio: 1,
      layout: { padding: { top: TOPPAD, left: 0, bottom: 0, right: CW - YAXW - colWidth[c] } },
      plugins: { legend: { display: false }, tooltip: { enabled: false },
        panelLabel: { text: 'elem ' + elemNames[c] + ' @ ' + freqNames[r] } },
      scales: {
        x: {
          type: 'linear', min: -45, max: 45,
          afterBuildTicks: s => { s.ticks = xTicks.map(v => ({value: v})); },
          afterFit: s => { s.height = CH - TOPPAD - plotH; },
          grid: { color: '#dedede', drawTicks: false, lineWidth: 1 },
          border: { display: false },
          ticks: { color: TXT, font: { size: 15 }, padding: 5, maxRotation: 0, autoSkip: false },
          title: { display: true, text: 'zenith angle (deg)', color: TXT, font: { size: 18 },
                   padding: { top: 0, bottom: 3 } }
        },
        y: {
          type: 'linear', min: -10, max: 0,
          afterBuildTicks: s => { s.ticks = yTicks.map(v => ({value: v})); },
          afterFit: s => { s.width = YAXW; },
          grid: { color: '#dedede', drawTicks: false, lineWidth: 1 },
          border: { display: false },
          ticks: { color: TXT, font: { size: 15 }, padding: 6, autoSkip: false },
          title: { display: true, text: '(dB)', color: TXT, font: { size: 18 },
                   padding: { top: 12, bottom: 0 } }
        }
      }
    },
    plugins: [boxPlugin, labelPlugin]
  });
}
</script>
</body></html>
